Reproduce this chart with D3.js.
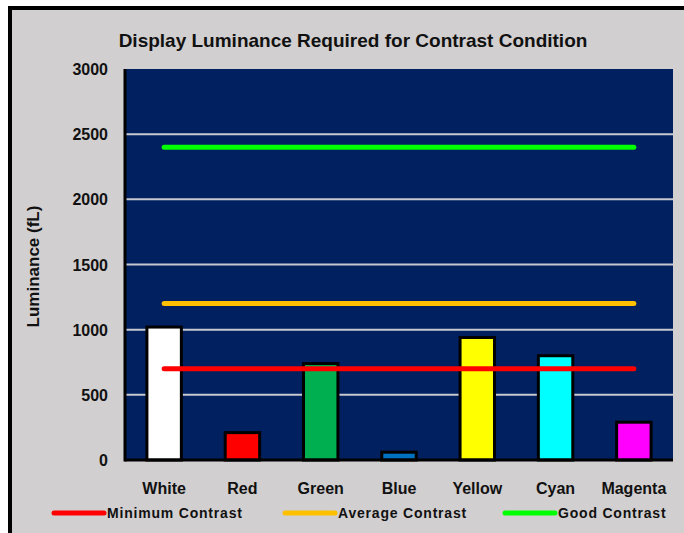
<!DOCTYPE html>
<html>
<head>
<meta charset="utf-8">
<script src="https://cdn.jsdelivr.net/npm/d3@7"></script>
<style>
  body { margin: 0; background: #fff; }
  text { font-family: "Liberation Sans Narrow", "Liberation Sans", Arial, sans-serif; font-weight: bold; fill: #111; }
</style>
</head>
<body>
<svg width="684" height="533"></svg>
<script>
// data
var colorNames = ["White", "Red", "Green", "Blue", "Yellow", "Cyan", "Magenta"];
var luminance = [1020, 210, 740, 60, 940, 800, 290];
var barColors = ["#ffffff", "#ff0000", "#00b050", "#0070c0", "#ffff00", "#00ffff", "#ff00ff"];
var contrastNames = ["Minimum Contrast", "Average Contrast", "Good Contrast"];
var contrastValues = [700, 1200, 2400];
var contrastColors = ["#ff0000", "#ffc000", "#00ff00"];
var yTicks = [0, 500, 1000, 1500, 2000, 2500, 3000];

var svg = d3.select("svg");

// frame
svg.append("rect")
   .attr("x", 0).attr("y", 0).attr("width", 684).attr("height", 533)
   .attr("fill", "#fff");
svg.append("rect")
   .attr("x", 10).attr("y", 8).attr("width", 690).attr("height", 540)
   .attr("fill", "#d1cfcf")
   .attr("stroke", "#000")
   .attr("stroke-width", 4);

var plotL = 125, plotR = 673, plotT = 69, plotB = 460;

var x = d3.scaleBand().domain(colorNames).range([plotL, plotR])
          .paddingInner(0.56).paddingOuter(0.28);
var y = d3.scaleLinear().domain([0, 3000]).range([plotB, plotT]);

// title
svg.append("text")
   .attr("x", 353)
   .attr("y", 47)
   .attr("text-anchor", "middle")
   .style("font-size", "19px")
   .text("Display Luminance Required for Contrast Condition");

// plot background
svg.append("rect")
   .attr("x", plotL).attr("y", plotT)
   .attr("width", plotR - plotL).attr("height", plotB - plotT)
   .attr("fill", "#002060");

// gridlines
svg.append("g")
   .selectAll("line")
   .data(yTicks.filter(function(d) { return d > 0 && d < 3000; }))
   .enter().append("line")
   .attr("x1", plotL).attr("x2", plotR)
   .attr("y1", function(d) { return y(d); })
   .attr("y2", function(d) { return y(d); })
   .attr("stroke", "#c8c8d0")
   .attr("stroke-width", 2);

// y axis labels
svg.append("g")
   .selectAll("text")
   .data(yTicks)
   .enter().append("text")
   .attr("x", 108)
   .attr("y", function(d) { return y(d) + 6; })
   .attr("text-anchor", "end")
   .style("font-size", "16px")
   .text(function(d) { return d; });

svg.append("text")
   .attr("transform", "translate(39," + ((plotT + plotB) / 2 + 2) + ") rotate(-90)")
   .attr("text-anchor", "middle")
   .style("font-size", "17px")
   .text("Luminance (fL)");

// bars
svg.append("g")
   .selectAll("rect")
   .data(colorNames)
   .enter().append("rect")
   .attr("x", function(d) { return x(d); })
   .attr("width", x.bandwidth())
   .attr("y", function(d, i) { return y(luminance[i]); })
   .attr("height", function(d, i) { return plotB - y(luminance[i]); })
   .attr("fill", function(d, i) { return barColors[i]; })
   .attr("stroke", "#000")
   .attr("stroke-width", 3);

// contrast lines
var x0 = x(colorNames[0]) + x.bandwidth() / 2,
    x1 = x(colorNames[colorNames.length - 1]) + x.bandwidth() / 2;
svg.append("g")
   .selectAll("line")
   .data(contrastValues)
   .enter().append("line")
   .attr("x1", x0).attr("x2", x1)
   .attr("y1", function(d) { return y(d); })
   .attr("y2", function(d) { return y(d); })
   .attr("stroke", function(d, i) { return contrastColors[i]; })
   .attr("stroke-width", 5)
   .attr("stroke-linecap", "round");

// axes lines
svg.append("line")
   .attr("x1", plotL).attr("x2", plotL).attr("y1", plotT).attr("y2", plotB + 1.5)
   .attr("stroke", "#000").attr("stroke-width", 3);
svg.append("line")
   .attr("x1", plotL).attr("x2", plotR).attr("y1", plotB).attr("y2", plotB)
   .attr("stroke", "#000").attr("stroke-width", 3);

// x labels
svg.append("g")
   .selectAll("text")
   .data(colorNames)
   .enter().append("text")
   .attr("x", function(d) { return x(d) + x.bandwidth() / 2; })
   .attr("y", 494)
   .attr("text-anchor", "middle")
   .style("font-size", "16px")
   .text(function(d) { return d; });

// legend
var legendX = [52, 283, 503];
var lg = svg.append("g")
   .selectAll("g")
   .data(contrastNames)
   .enter().append("g")
   .attr("transform", function(d, i) { return "translate(" + legendX[i] + ",513)"; });
lg.append("line")
  .attr("x1", 2).attr("x2", 52)
  .attr("stroke", function(d, i) { return contrastColors[i]; })
  .attr("stroke-width", 5)
  .attr("stroke-linecap", "round");
lg.append("text")
  .attr("x", 55)
  .attr("y", 5)
  .style("font-size", "14px")
  .style("letter-spacing", "0.8px")
  .text(function(d) { return d; });
</script>
</body>
</html>
